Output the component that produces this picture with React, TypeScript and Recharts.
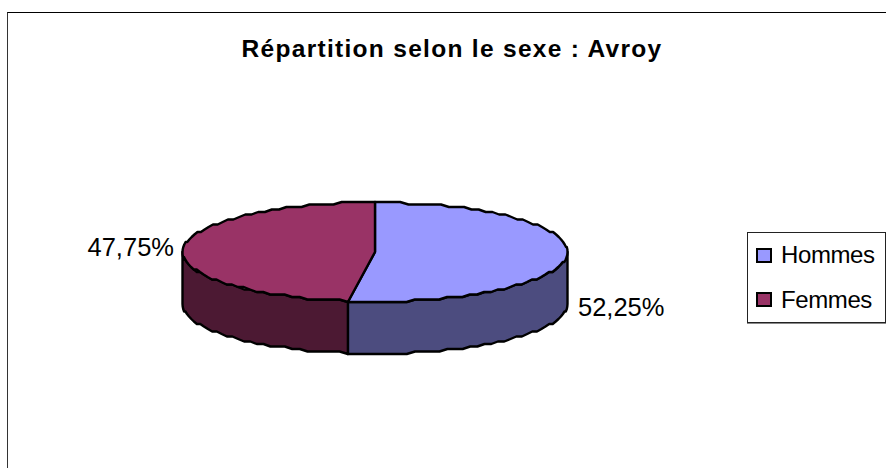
import React from "react";
import { PieChart, Pie, Cell, Legend } from "recharts";

const names = ["Hommes", "Femmes"];
const shares = [52.25, 47.75];
const colors = ["#9999FF", "#993366"];

const tableData = names.map((name, i) => ({ name, value: shares[i] }));

const RX = 192.5;
const RY = 49.5;
const DEPTH = 52;
const RAD = Math.PI / 180;
const FONT = '"Liberation Sans", Arial, sans-serif';

// halve each channel, the side wall is a darker tone of the top
const darken = (hex: string) => {
    const n = parseInt(hex.slice(1), 16);
    const ch = (s: number) => ((n >> s) & 255) >> 1;
    return `rgb(${ch(16)},${ch(8)},${ch(0)})`;
};

// the ellipse edge is a little stepped in the original, so snap y to a coarse grid
const edge = (cx: number, cy: number, a: number) => {
    const y = RY * Math.sin(-a * RAD);
    return [cx + RX * Math.cos(a * RAD), cy + Math.round(y / 2.5) * 2.5];
};

const arcPoints = (cx: number, cy: number, from: number, to: number) => {
    const n = Math.max(1, Math.round(Math.abs(to - from) / 2.5));
    const pts: number[][] = [];
    for (let i = 0; i <= n; i++) {
        pts.push(edge(cx, cy, from + ((to - from) * i) / n));
    }
    return pts;
};

const toPath = (pts: number[][]) =>
    pts.map((p, i) => `${i ? "L" : "M"}${p[0].toFixed(1)} ${p[1].toFixed(1)}`).join(" ");

const Slice3D = (props: any) => {
    const { cx, cy, startAngle, endAngle, fill } = props;
    const top = arcPoints(cx, cy, startAngle, endAngle);

    // only the lower half of the rim is visible
    const lo = Math.max(endAngle, -180);
    const hi = Math.min(startAngle, 0);
    let wall = null;
    if (lo < hi) {
        const rim = arcPoints(cx, cy, hi, lo);
        const under = rim.map((p) => [p[0], p[1] + DEPTH]).reverse();
        wall = (
            <path
                d={toPath([...rim, ...under]) + " Z"}
                fill={darken(fill)}
                stroke="#000"
                strokeWidth={2.4}
                strokeLinejoin="round"
            />
        );
    }

    return (
        <g>
            {wall}
            <path
                d={`${toPath([[cx, cy], ...top])} Z`}
                fill={fill}
                stroke="#000"
                strokeWidth={2.4}
                strokeLinejoin="round"
            />
        </g>
    );
};

const renderLabel = (props: any) => {
    const { cx, cy, midAngle, value } = props;
    const cos = Math.cos(midAngle * RAD);
    const sin = Math.sin(-midAngle * RAD);
    const x = cx + (RX + (cos > 0 ? 11 : 9)) * cos;
    const y = cy + RY * sin + (sin > 0 ? DEPTH : -1.5);
    return (
        <text
            x={x}
            y={y}
            textAnchor={cos > 0 ? "start" : "end"}
            dominantBaseline="central"
            fontFamily={FONT}
            fontSize={25.5}
            fill="#000"
        >
            {value.toFixed(2).replace(".", ",")}%
        </text>
    );
};

const LegendBox = ({ payload }: any) => (
    <div
        style={{
            boxSizing: "border-box",
            width: 139,
            height: 91,
            border: "1px solid #222",
            boxShadow: "0 1px 0 #888",
            background: "#fff",
            fontFamily: FONT,
            fontSize: 24,
            letterSpacing: -0.4,
            padding: "0 0 0 8px",
            display: "flex",
            flexDirection: "column",
            justifyContent: "space-around",
        }}
    >
        {(payload || []).map((item: any) => (
            <div key={item.value} style={{ display: "flex", alignItems: "center", color: "#000" }}>
                <span
                    style={{
                        boxSizing: "border-box",
                        width: 16,
                        height: 15,
                        marginRight: 9,
                        background: item.color,
                        border: "2px solid #000",
                    }}
                />
                {item.value}
            </div>
        ))}
    </div>
);

export default function App() {
    return (
        <div
            style={{
                position: "absolute",
                left: 0,
                top: 0,
                width: 886,
                height: 468,
                overflow: "hidden",
                background: "#fff",
            }}
        >
            {/* frame runs off the right and bottom of the picture */}
            <div
                style={{
                    position: "absolute",
                    left: 7,
                    top: 12,
                    width: 900,
                    height: 500,
                    borderLeft: "1.5px solid #333",
                    borderTop: "1.5px solid #000",
                }}
            />
            <div
                style={{
                    position: "absolute",
                    left: 0,
                    width: 904,
                    top: 36,
                    textAlign: "center",
                    fontFamily: FONT,
                    fontWeight: 700,
                    fontSize: 24.5,
                    lineHeight: "26px",
                    letterSpacing: 1.3,
                    color: "#000",
                }}
            >
                Répartition selon le sexe : Avroy
            </div>
            <PieChart
                width={886}
                height={468}
                margin={{ top: 0, right: 0, bottom: 0, left: 0 }}
                style={{ position: "absolute", left: 0, top: 0 }}
            >
                <Pie
                    data={tableData}
                    dataKey="value"
                    nameKey="name"
                    cx={375}
                    cy={252}
                    outerRadius={RX}
                    startAngle={90}
                    endAngle={-270}
                    shape={Slice3D}
                    label={renderLabel}
                    labelLine={false}
                    isAnimationActive={false}
                >
                    {tableData.map((d, i) => (
                        <Cell key={d.name} fill={colors[i]} />
                    ))}
                </Pie>
                <Legend
                    content={<LegendBox />}
                    itemSorter={null}
                    wrapperStyle={{ position: "absolute", left: 747, top: 232, width: 139, height: 91 }}
                />
            </PieChart>
        </div>
    );
}
